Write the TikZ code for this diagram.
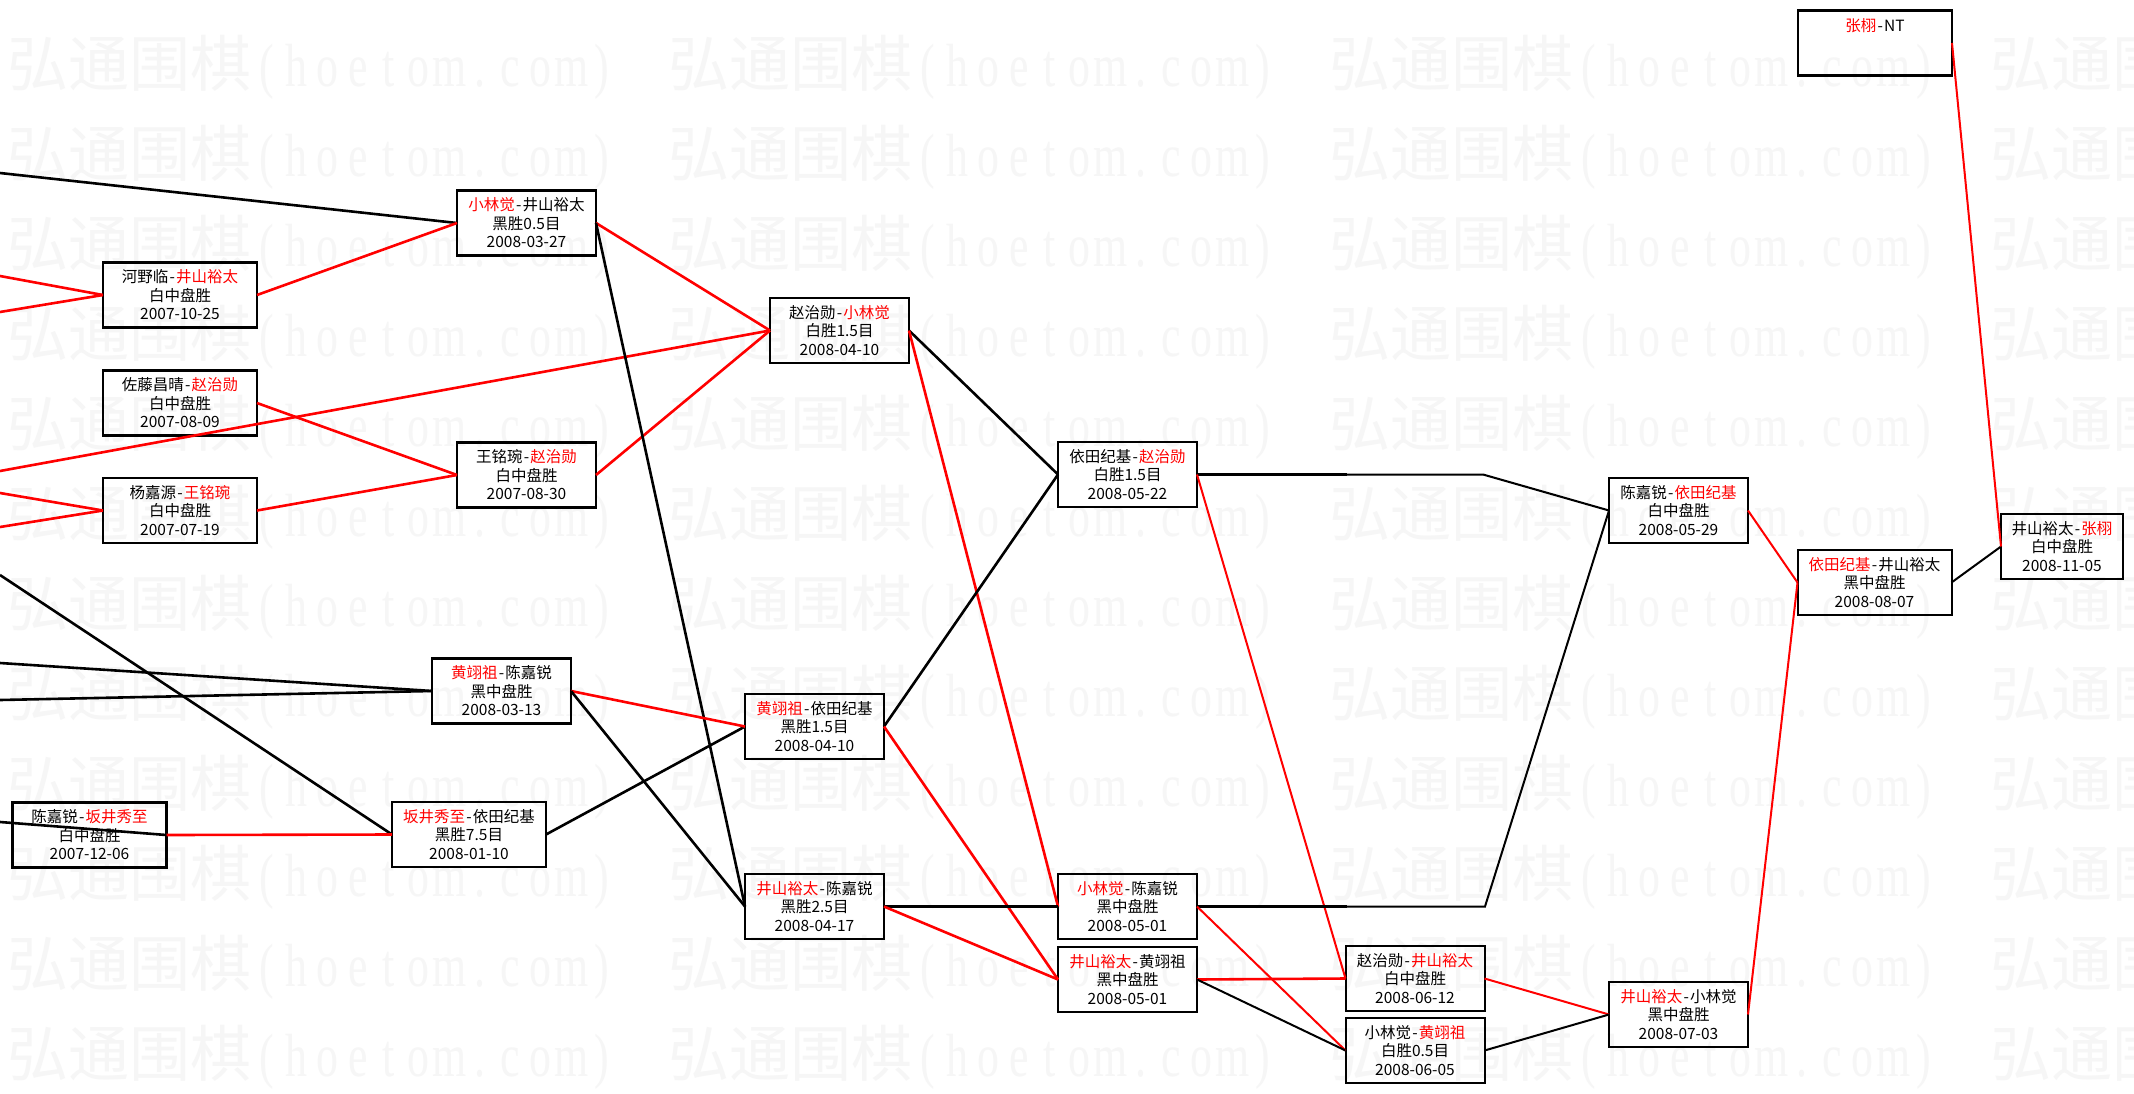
\documentclass[tikz,border=0pt]{standalone}
\usepackage{fontspec}
\setmainfont{Noto Sans CJK SC}
\newfontfamily\wmlat{Liberation Serif}
\newcommand\rd[1]{\textcolor{red}{#1}}
\newcommand\hy{\makebox[0.5em]{-}}
\newcommand\hb[1]{\makebox[0.5em]{\scalebox{0.72}[1]{\wmlat #1}}}
\newcommand\wmtext{弘通围棋\hb{(}\hb{h}\hb{o}\hb{e}\hb{t}\hb{o}\hb{m}\hb{.}\hb{c}\hb{o}\hb{m}\hb{)}}
\begin{document}
\begin{tikzpicture}[x=1pt,y=-1pt,
  game/.style={draw, line width=2.7pt, inner sep=0pt, outer sep=0pt,
    minimum width=139pt, minimum height=65pt, align=center,
    font=\fontsize{15.5}{18.5}\selectfont},
  wide/.style={minimum width=154pt},
  thinb/.style={line width=2pt},
  lk/.style={line width=2.6pt},
  lkt/.style={line width=2pt},
  win/.style={red},
  lose/.style={black},
  wm/.style={anchor=west, inner sep=0pt, text=black!3.5,
    font=\fontsize{61}{61}\selectfont}
]
\useasboundingbox (0,0) rectangle (2134,1093);
\fill[white] (0,0) rectangle (2134,1093);

% watermark
\foreach \i in {0,...,3}{
  \foreach \j in {0,...,11}{
    \node[wm] (w\i-\j) at (7+661*\i, 67+90*\j) {\wmtext};
  }
}

% boxes
\node[game, wide] (zh) at (1875,43) {\rd{张栩}\hy NT\\\mbox{}\\\mbox{}};
\node[game] (kj) at (526.5,223) {\rd{小林觉}\hy 井山裕太\\黑胜0.5目\\2008-03-27};
\node[game, wide] (hy) at (180,295) {河野临\hy\rd{井山裕太}\\白中盘胜\\2007-10-25};
\node[game] (zk) at (839.5,330.5) {赵治勋\hy\rd{小林觉}\\白胜1.5目\\2008-04-10};
\node[game, wide] (sz) at (180,403) {佐藤昌晴\hy\rd{赵治勋}\\白中盘胜\\2007-08-09};
\node[game] (wz) at (526.5,475) {王铭琬\hy\rd{赵治勋}\\白中盘胜\\2007-08-30};
\node[game, wide] (yw) at (180,510.5) {杨嘉源\hy\rd{王铭琬}\\白中盘胜\\2007-07-19};
\node[game, line width=2.3pt] (yz) at (1127.5,474.5) {依田纪基\hy\rd{赵治勋}\\白胜1.5目\\2008-05-22};
\node[game, thinb] (cy) at (1678.5,510.5) {陈嘉锐\hy\rd{依田纪基}\\白中盘胜\\2008-05-29};
\node[game, wide, thinb] (yj) at (1874.5,582.5) {\rd{依田纪基}\hy 井山裕太\\黑中盘胜\\2008-08-07};
\node[game, thinb, minimum width=122pt] (jz) at (2062,546.5) {井山裕太\hy\rd{张栩}\\白中盘胜\\2008-11-05};
\node[game] (hc) at (501.5,691) {\rd{黄翊祖}\hy 陈嘉锐\\黑中盘胜\\2008-03-13};
\node[game] (hy2) at (814.5,726.5) {\rd{黄翊祖}\hy 依田纪基\\黑胜1.5目\\2008-04-10};
\node[game, wide] (cs) at (89.5,835) {陈嘉锐\hy\rd{坂井秀至}\\白中盘胜\\2007-12-06};
\node[game, wide] (sy) at (469,834.5) {\rd{坂井秀至}\hy 依田纪基\\黑胜7.5目\\2008-01-10};
\node[game] (jc) at (814.5,906.5) {\rd{井山裕太}\hy 陈嘉锐\\黑胜2.5目\\2008-04-17};
\node[game] (kc) at (1127.5,906.5) {\rd{小林觉}\hy 陈嘉锐\\黑中盘胜\\2008-05-01};
\node[game] (jh) at (1127.5,979.5) {\rd{井山裕太}\hy 黄翊祖\\黑中盘胜\\2008-05-01};
\node[game, thinb] (zj) at (1415,978.5) {赵治勋\hy\rd{井山裕太}\\白中盘胜\\2008-06-12};
\node[game, thinb] (kh) at (1415,1050.5) {小林觉\hy\rd{黄翊祖}\\白胜0.5目\\2008-06-05};
\node[game, thinb] (jk) at (1678.5,1014.5) {\rd{井山裕太}\hy 小林觉\\黑中盘胜\\2008-07-03};

% free ends at the left edge and bends
\coordinate (e1) at (0,173);
\coordinate (e2) at (0,276);
\coordinate (e3) at (0,312);
\coordinate (e4) at (0,471);
\coordinate (e5) at (0,493);
\coordinate (e6) at (0,527);
\coordinate (e7) at (0,575);
\coordinate (e8) at (0,663);
\coordinate (e9) at (0,700);
\coordinate (e10) at (0,822);
\coordinate (m1) at (1347,474.5);
\coordinate (b1) at (1483,474.5);
\coordinate (m2) at (1347,906.5);
\coordinate (b2) at (1485,906.5);

% thick connectors
\draw[lk, lose] (e1) -- (kj.west);
\draw[lk, win] (e2) -- (hy.west);
\draw[lk, win] (e3) -- (hy.west);
\draw[lk, win] (e4) -- (zk.west);
\draw[lk, win] (e5) -- (yw.west);
\draw[lk, win] (e6) -- (yw.west);
\draw[lk, lose] (e7) -- (sy.west);
\draw[lk, lose] (e8) -- (hc.west);
\draw[lk, lose] (e9) -- (hc.west);
\draw[lk, lose] (e10) -- (cs.east);
\draw[lk, win] (hy.east) -- (kj.west);
\draw[lk, win] (sz.east) -- (wz.west);
\draw[lk, win] (yw.east) -- (wz.west);
\draw[lk, win] (kj.east) -- (zk.west);
\draw[lk, win] (wz.east) -- (zk.west);
\draw[lk, lose] (kj.east) -- (jc.west);
\draw[lk, win] (cs.east) -- (sy.west);
\draw[lk, lose] (sy.east) -- (hy2.west);
\draw[lk, win] (hc.east) -- (hy2.west);
\draw[lk, lose] (hc.east) -- (jc.west);
\draw[lk, lose] (zk.east) -- (yz.west);
\draw[lk, win] (zk.east) -- (kc.west);
\draw[lk, lose] (hy2.east) -- (yz.west);
\draw[lk, win] (hy2.east) -- (jh.west);
\draw[lk, lose] (jc.east) -- (kc.west);
\draw[lk, win] (jc.east) -- (jh.west);
% right-hand connectors
\draw[lk, lose] (yz.east) -- (m1);
\draw[lkt, lose] (m1) -- (b1) -- (cy.west);
\draw[lkt, win] (yz.east) -- (zj.west);
\draw[lk, lose] (kc.east) -- (m2);
\draw[lkt, lose] (m2) -- (b2) -- (cy.west);
\draw[lkt, win] (kc.east) -- (kh.west);
\draw[lk, win] (jh.east) -- (zj.west);
\draw[lkt, lose] (jh.east) -- (kh.west);
\draw[lkt, win] (zj.east) -- (jk.west);
\draw[lkt, lose] (kh.east) -- (jk.west);
\draw[lkt, win] (cy.east) -- (yj.west);
\draw[lkt, win] (jk.east) -- (yj.west);
\draw[lkt, lose] (yj.east) -- (jz.west);
\draw[lkt, win] (zh.east) -- (jz.west);
\end{tikzpicture}
\end{document}
